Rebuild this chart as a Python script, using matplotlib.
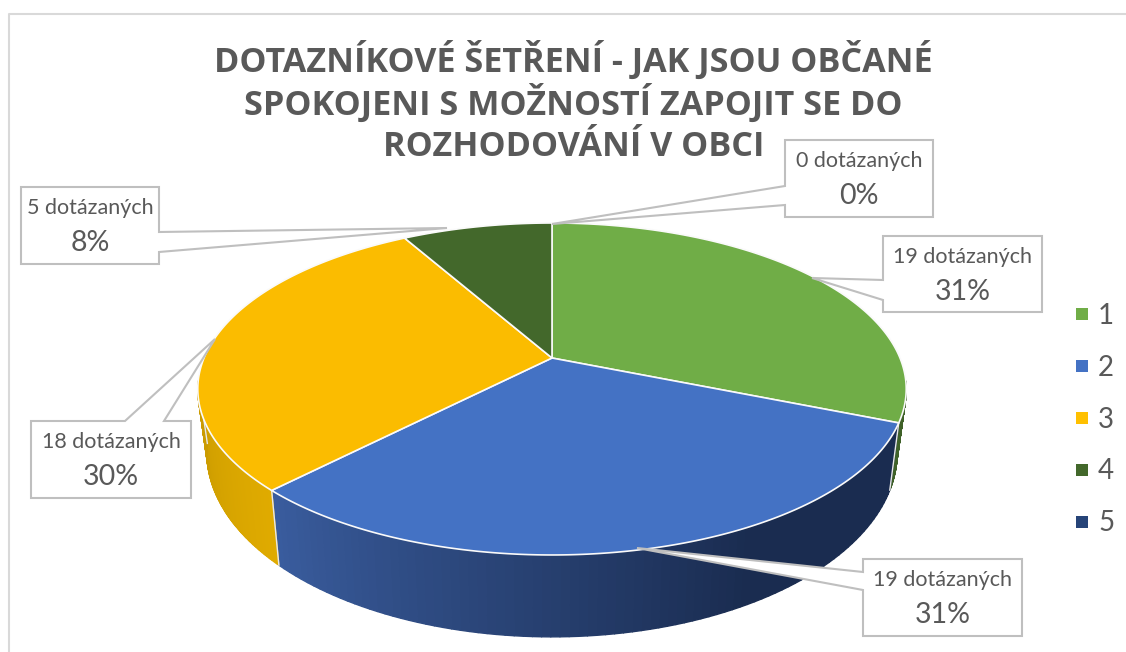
"""3D pie of the village questionnaire, drawn by hand because matplotlib has no perspective pie."""
import math
import numpy as np
import matplotlib
matplotlib.use("Agg")
import matplotlib.pyplot as plt
from matplotlib.colors import to_rgb
from matplotlib.lines import Line2D
from matplotlib.collections import PolyCollection
from matplotlib.patches import Polygon

TITLE_LINES = ["DOTAZNÍKOVÉ ŠETŘENÍ - JAK JSOU OBČANÉ",
               "SPOKOJENI S MOŽNOSTÍ ZAPOJIT SE DO",
               "ROZHODOVÁNÍ V OBCI"]
categories = ["1", "2", "3", "4", "5"]
respondents = [19, 19, 18, 5, 0]
percent_labels = ["31%", "31%", "30%", "8%", "0%"]
top_colors = ["#70AD47", "#4472C4", "#FBBC00", "#43682B", "#264478"]
legend_colors = ["#70AD47", "#4472C4", "#FFC000", "#43682B", "#264478"]
# wall colour at the start and the end of each slice (clockwise)
wall_start = ["#3F6128", "#1A2C50", "#E0AB00", "#43682B", "#264478"]
wall_end = ["#3F6128", "#3A5D9F", "#C99A00", "#43682B", "#264478"]

# callout layout in pixels: box x0, x1, y0, y1 and leader tip
boxes = [(883, 1042, 236, 312), (863, 1022, 559, 636), (31, 191, 421, 498),
         (21, 159, 187, 264), (785, 933, 140, 217)]
tips = [(812, 278), (637, 548), (215, 339), (447, 228), (552, 224)]
notches = [(280, 300), (572, 590), (125, 164), (232, 252), (186, 205)]
notch_side = ["left", "left", "top", "right", "left"]

GRAY = "#595959"
FRAME = "#D9D9D9"
W, H = 1126, 652
CX = 552
PERSP = 0.1867


def rim(theta, lower=False):
    """Screen position of a rim point, theta clockwise from the top (perspective disc)."""
    u, v = np.sin(theta), np.cos(theta)
    d = 1 + PERSP * v
    if lower:
        return CX + 339 * u / d, 418 - 178 * v / d
    return CX + 348 * u / d, 358 - 160.2 * v / d


def callout(box, tip, notch, side):
    x0, x1, y0, y1 = box
    if side == "left":
        return [(x0, y0), (x1, y0), (x1, y1), (x0, y1), (x0, notch[1]), tip, (x0, notch[0])]
    if side == "right":
        return [(x0, y0), (x1, y0), (x1, notch[0]), tip, (x1, notch[1]), (x1, y1), (x0, y1)]
    return [(x0, y0), (notch[0], y0), tip, (notch[1], y0), (x1, y0), (x1, y1), (x0, y1)]


def main():
    fig = plt.figure(figsize=(W / 100, H / 100), dpi=100)
    ax = fig.add_axes([0, 0, 1, 1])
    ax.set_xlim(0, W)
    ax.set_ylim(H, 0)
    ax.axis("off")

    ax.add_line(Line2D([8.5, 8.5, W], [H, 13.5, 13.5], color=FRAME, lw=1.5, zorder=1))

    fr = np.array(respondents) / sum(respondents)
    edges = np.concatenate([[0], np.cumsum(fr)]) * 2 * math.pi

    # side wall first, thin quads so the shading runs along the rim
    for i in range(len(respondents)):
        if fr[i] == 0:
            continue
        t0, t1 = max(edges[i], math.radians(98)), min(edges[i + 1], math.radians(262))
        if t1 <= t0:
            continue
        ts = np.linspace(t0, t1, 90)
        quads, cols = [], []
        c0, c1 = np.array(to_rgb(wall_start[i])), np.array(to_rgb(wall_end[i]))
        # the blue wall stays dark up to the front and then lightens
        for a, b in zip(ts[:-1], ts[1:]):
            xa, ya = rim(a)
            xb, yb = rim(b)
            xc, yc = rim(b, True)
            xd, yd = rim(a, True)
            quads.append([(xa, ya), (xb, yb), (xc, yc), (xd, yd)])
            f = (a - t0) / (t1 - t0)
            if i == 1:
                f = max(0.0, (f - 0.35) / 0.65)
            cols.append(c0 + (c1 - c0) * f)
        ax.add_collection(PolyCollection(quads, facecolors=cols, edgecolors=cols, lw=1.0, zorder=2))
        xa, ya = rim(t1)
        xb, yb = rim(t1, True)
        ax.plot([xa, xb], [ya, yb], color="#E8E8E8", lw=1.0, zorder=3)

    # top face
    for i in range(len(respondents)):
        if fr[i] == 0:
            continue
        ts = np.linspace(edges[i], edges[i + 1], 200)
        x, y = rim(ts)
        pts = [(CX, 358)] + list(zip(x, y))
        ax.add_patch(Polygon(pts, closed=True, facecolor=top_colors[i], edgecolor="#FAFAFA",
                             lw=1.2, joinstyle="round", zorder=4))

    # callouts with the data labels
    for i in range(len(respondents)):
        pts = callout(boxes[i], tips[i], notches[i], notch_side[i])
        ax.add_patch(Polygon(pts, closed=True, facecolor="white", edgecolor="#BFBFBF",
                             lw=1.5, zorder=5))
        x0, x1, y0, y1 = boxes[i]
        xm = (x0 + x1) / 2
        ax.text(xm, y0 + 21, f"{respondents[i]} dotázaných", ha="center", va="center",
                fontsize=15.5, color=GRAY, family="Lato", zorder=6)
        ax.text(xm, y0 + 56, percent_labels[i], ha="center", va="center",
                fontsize=20.5, color=GRAY, family="Lato", zorder=6)

    for line, yy in zip(TITLE_LINES, [60, 103, 147]):
        ax.text(573.5, yy, line, ha="center", va="center", fontsize=24.6, fontweight="bold",
                color=GRAY, family="Open Sans", zorder=6)

    handles = [Line2D([], [], marker="s", ls="none", ms=8.6, color=c, mew=0) for c in legend_colors]
    ax.legend(handles, categories, loc="center left", bbox_to_anchor=(1074 / W, 1 - 419.5 / H),
              frameon=False, labelcolor=GRAY, prop={"family": "Lato", "size": 20},
              labelspacing=0.935, handlelength=0.6, handletextpad=0.27, borderpad=0, borderaxespad=0)

    fig.savefig("out.png", dpi=100)


if __name__ == "__main__":
    main()
